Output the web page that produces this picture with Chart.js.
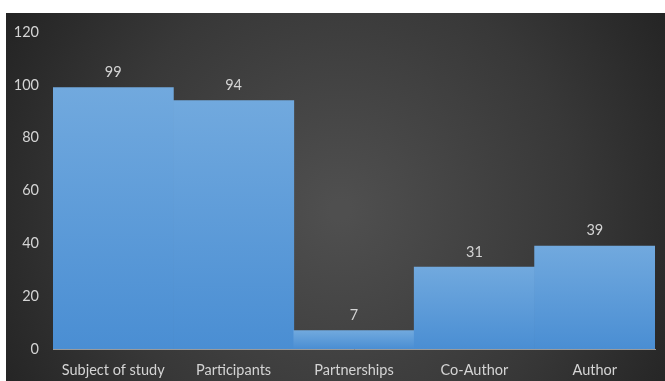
<!DOCTYPE html>
<html lang="en">
<head>
  <meta charset="UTF-8">
  <title>Roles</title>
  <script src="https://cdn.jsdelivr.net/npm/chart.js"></script>
  <style>
    body { margin: 0; background: #fff; overflow: hidden; }
    #wrap { width: 665px; height: 381px; position: relative; }
  </style>
</head>
<body>
  <div id="wrap"><canvas id="chartCanvas"></canvas></div>
  <script>
    const categories = ['Subject of study', 'Participants', 'Partnerships', 'Co-Author', 'Author'];
    const counts = [99, 94, 7, 31, 39];
    const yTicks = [0, 20, 40, 60, 80, 100, 120];

    const textColor = '#d4d4d4';
    const fontFamily = "Lato, 'Open Sans', sans-serif";

    // dark radial backdrop behind everything
    const backdrop = {
      id: 'backdrop',
      beforeDraw(chart) {
        const c = chart.ctx;
        c.save();
        c.fillStyle = '#fff';
        c.fillRect(0, 0, chart.width, chart.height);
        const g = c.createRadialGradient(340, 210, 10, 340, 210, 420);
        g.addColorStop(0, '#4f4f4f');
        g.addColorStop(0.55, '#383838');
        g.addColorStop(1, '#1f1f1f');
        c.fillStyle = g;
        c.fillRect(6, 13, chart.width - 6, chart.height - 13);
        c.restore();
      }
    };

    // value labels above bars
    const valueLabels = {
      id: 'valueLabels',
      afterDatasetsDraw(chart) {
        const c = chart.ctx;
        const meta = chart.getDatasetMeta(0);
        c.save();
        c.fillStyle = textColor;
        c.font = '14.5px ' + fontFamily;
        c.textAlign = 'center';
        c.textBaseline = 'bottom';
        meta.data.forEach((bar, i) => {
          c.fillText(String(counts[i]), bar.x, bar.y - 8);
        });
        c.restore();
      }
    };

    function barGradient(context) {
      const chart = context.chart;
      const area = chart.chartArea;
      if (!area || context.type !== 'data') return '#5b9bd5';
      const y = chart.scales.y;
      const top = y.getPixelForValue(context.parsed.y);
      const bottom = y.getPixelForValue(0);
      const g = chart.ctx.createLinearGradient(0, top, 0, bottom);
      g.addColorStop(0, '#71a9de');
      g.addColorStop(1, '#4a8ed3');
      return g;
    }

    new Chart(document.getElementById('chartCanvas'), {
      type: 'bar',
      data: {
        labels: categories,
        datasets: [{
          data: counts,
          backgroundColor: barGradient,
          borderWidth: 0,
          categoryPercentage: 1.0,
          barPercentage: 1.0
        }]
      },
      options: {
        responsive: true,
        maintainAspectRatio: false,
        animation: false,
        layout: { padding: { top: 32, right: 10, left: 0, bottom: 0 } },
        plugins: { legend: { display: false }, tooltip: { enabled: false } },
        scales: {
          x: {
            grid: { display: false },
            border: { display: true, color: '#9a9a9a', width: 1 },
            ticks: { color: textColor, font: { family: fontFamily, size: 14.5 }, padding: 5 },
            afterFit(s) { s.height = 32; }
          },
          y: {
            min: 0,
            max: 120,
            afterBuildTicks(s) { s.ticks = yTicks.map(v => ({ value: v })); },
            grid: { display: false, drawTicks: false },
            border: { display: false },
            ticks: { color: textColor, font: { family: fontFamily, size: 14.5 }, padding: 14 },
            afterFit(s) { s.width = 53; }
          }
        }
      },
      plugins: [backdrop, valueLabels]
    });
  </script>
</body>
</html>
